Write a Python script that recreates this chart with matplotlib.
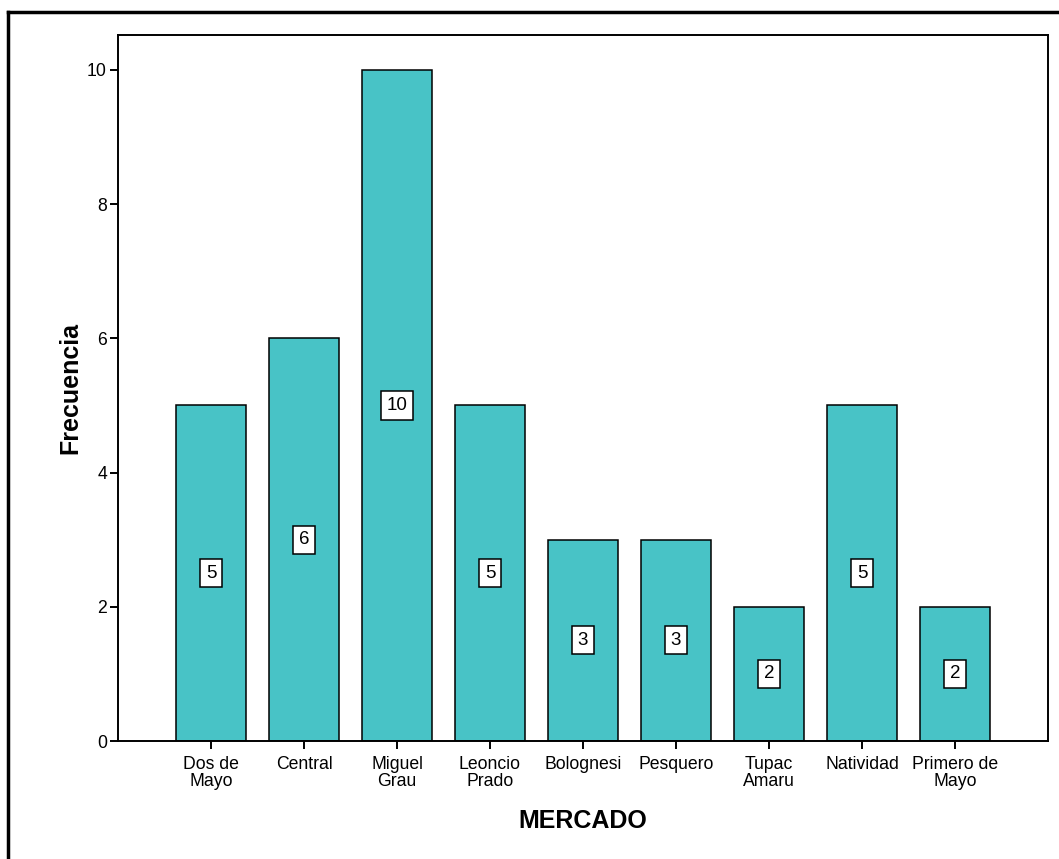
import matplotlib.pyplot as plt
from matplotlib.lines import Line2D

mercados = ["Dos de\nMayo", "Central", "Miguel\nGrau", "Leoncio\nPrado", "Bolognesi",
            "Pesquero", "Tupac\nAmaru", "Natividad", "Primero de\nMayo"]
frecuencia = [5, 6, 10, 5, 3, 3, 2, 5, 2]
y_ticks = [0, 2, 4, 6, 8, 10]

plt.rcParams['font.family'] = ['Liberation Sans', 'DejaVu Sans']

fig = plt.figure(figsize=(10.59, 8.59), dpi=100)
ax = fig.add_axes([118 / 1059, 1 - 741 / 859, (1048 - 118) / 1059, (741 - 35) / 859])

x = list(range(len(mercados)))
bars = ax.bar(x, frecuencia, width=0.75, color="#48c3c6", edgecolor="black", linewidth=1.1, zorder=2)

# value labels in white boxes at half height
for xi, v in zip(x, frecuencia):
    ax.text(xi, v / 2, str(v), ha="center", va="center", fontsize=13.5,
            bbox=dict(boxstyle="square,pad=0.3", facecolor="white", edgecolor="black", linewidth=1.1),
            zorder=3)

ax.set_xlim(-1, 9)
ax.set_ylim(0, 10.52)
ax.set_xticks(x)
ax.set_xticklabels(mercados, fontsize=12.7, linespacing=0.95)
ax.set_yticks(y_ticks)
ax.set_yticklabels([str(t) for t in y_ticks], fontsize=12.7)
ax.tick_params(axis="x", direction="out", length=6, width=1.4, pad=5)
ax.tick_params(axis="y", direction="out", length=6, width=1.4, pad=2)

for s in ax.spines.values():
    s.set_linewidth(1.4)

ax.set_xlabel("MERCADO", fontsize=18, fontweight="bold", labelpad=14)
ax.set_ylabel("Frecuencia", fontsize=18, fontweight="bold", labelpad=3)

# outer frame (top and left edges visible)
fig.add_artist(Line2D([8 / 1059, 8 / 1059], [0, 1 - 12 / 859], transform=fig.transFigure,
                      color="black", linewidth=2.5, solid_capstyle="projecting"))
fig.add_artist(Line2D([8 / 1059, 1], [1 - 12 / 859, 1 - 12 / 859], transform=fig.transFigure,
                      color="black", linewidth=2.5, solid_capstyle="projecting"))

fig.savefig("out.png", dpi=100)
